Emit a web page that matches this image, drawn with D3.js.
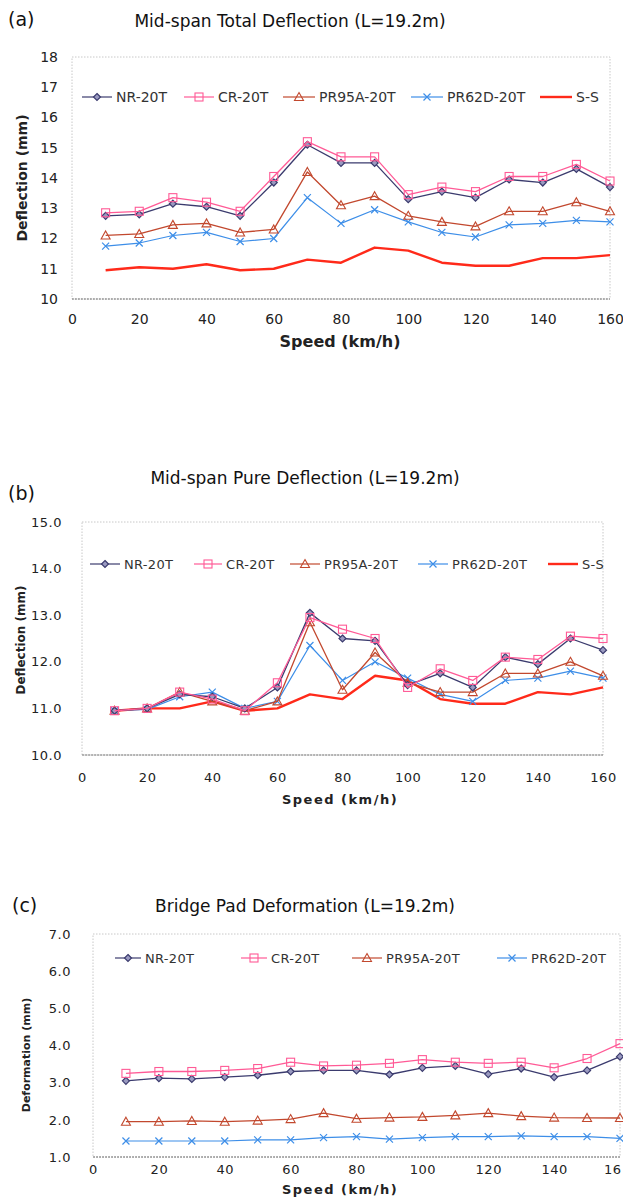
<!DOCTYPE html>
<html><head><meta charset="utf-8">
<script src="https://cdn.jsdelivr.net/npm/d3@7"></script>
<style>
body{margin:0;background:#fff;}
text{font-family:"DejaVu Sans","Liberation Sans",sans-serif;}
</style></head>
<body><svg id="c" width="623" height="1198"></svg>
<script>
const speeds = [10,20,30,40,50,60,70,80,90,100,110,120,130,140,150,160];
const seriesNames = ["NR-20T","CR-20T","PR95A-20T","PR62D-20T","S-S"];

// (a) total deflection
const aNR   = [12.75,12.8,13.15,13.05,12.75,13.85,15.1,14.5,14.5,13.3,13.55,13.35,13.95,13.85,14.3,13.7];
const aCR   = [12.85,12.9,13.35,13.2,12.9,14.05,15.2,14.7,14.7,13.45,13.7,13.55,14.05,14.05,14.45,13.9];
const aPR95 = [12.1,12.15,12.45,12.5,12.2,12.3,14.2,13.1,13.4,12.75,12.55,12.4,12.9,12.9,13.2,12.9];
const aPR62 = [11.75,11.85,12.1,12.2,11.9,12.0,13.35,12.5,12.95,12.55,12.2,12.05,12.45,12.5,12.6,12.55];
const aSS   = [10.95,11.05,11.0,11.15,10.95,11.0,11.3,11.2,11.7,11.6,11.2,11.1,11.1,11.35,11.35,11.45];

// (b) pure deflection
const bNR   = [10.95,11.0,11.3,11.25,11.0,11.45,13.05,12.5,12.45,11.5,11.75,11.45,12.1,11.95,12.5,12.25];
const bCR   = [10.95,11.0,11.35,11.2,10.95,11.55,12.95,12.7,12.5,11.45,11.85,11.6,12.1,12.05,12.55,12.5];
const bPR95 = [10.95,11.0,11.35,11.15,10.95,11.15,12.85,11.4,12.2,11.55,11.35,11.35,11.75,11.75,12.0,11.7];
const bPR62 = [10.95,10.98,11.25,11.35,11.0,11.15,12.35,11.6,12.0,11.65,11.3,11.15,11.6,11.65,11.8,11.65];
const bSS   = [10.95,11.0,11.0,11.15,10.95,11.0,11.3,11.2,11.7,11.6,11.2,11.1,11.1,11.35,11.3,11.45];

// (c) pad deformation
const cNR   = [3.05,3.12,3.1,3.15,3.2,3.3,3.33,3.33,3.22,3.4,3.45,3.23,3.38,3.15,3.33,3.7];
const cCR   = [3.25,3.3,3.3,3.33,3.38,3.55,3.45,3.47,3.52,3.62,3.55,3.52,3.55,3.4,3.65,4.05];
const cPR95 = [1.95,1.95,1.97,1.95,1.98,2.02,2.18,2.03,2.06,2.08,2.12,2.18,2.1,2.06,2.05,2.05];
const cPR62 = [1.43,1.43,1.43,1.43,1.46,1.46,1.52,1.55,1.48,1.52,1.55,1.55,1.57,1.55,1.55,1.5];

const xTicks = [0,20,40,60,80,100,120,140,160];
const aYTicks = [10,11,12,13,14,15,16,17,18];
const bYTicks = [10,11,12,13,14,15];
const cYTicks = [1,2,3,4,5,6,7];

const styles = {
  "NR-20T":   {color:"#3b3b6e", sym:"diamond", w:1.3},
  "CR-20T":   {color:"#ff5a96", sym:"square", w:1.3},
  "PR95A-20T":{color:"#c2482e", sym:"triangle", w:1.3},
  "PR62D-20T":{color:"#3d8ee8", sym:"cross", w:1.2},
  "S-S":      {color:"#ff2a1a", sym:null, w:2.4}
};

const svg = d3.select("#c");

function marker(g, sym, x, y, color){
  if(sym==="diamond"){
    g.append("path").attr("d",`M${x},${y-3.5}L${x+3.5},${y}L${x},${y+3.5}L${x-3.5},${y}Z`)
     .attr("fill","#9a9ac0").attr("stroke",color).attr("stroke-width",1.2);
  } else if(sym==="square"){
    g.append("rect").attr("x",x-4).attr("y",y-4).attr("width",8).attr("height",8)
     .attr("fill","none").attr("stroke",color).attr("stroke-width",1.1);
  } else if(sym==="triangle"){
    g.append("path").attr("d",`M${x},${y-4.5}L${x+4.5},${y+3.5}L${x-4.5},${y+3.5}Z`)
     .attr("fill","none").attr("stroke",color).attr("stroke-width",1.1);
  } else if(sym==="cross"){
    g.append("path").attr("d",`M${x-3.5},${y-3.5}L${x+3.5},${y+3.5}M${x+3.5},${y-3.5}L${x-3.5},${y+3.5}`)
     .attr("stroke",color).attr("stroke-width",1.2);
  }
}

function panel(cfg){
  const g = svg.append("g");
  const x = d3.scaleLinear().domain([0,160]).range([cfg.left,cfg.right]);
  const y = d3.scaleLinear().domain(cfg.yDomain).range([cfg.bottom,cfg.top]);
  g.append("rect").attr("x",cfg.left).attr("y",cfg.top).attr("width",cfg.right-cfg.left).attr("height",cfg.bottom-cfg.top)
   .attr("fill","none").attr("stroke","#c8c8c8").attr("stroke-width",1).attr("stroke-dasharray","1.5,1.5");
  g.append("line").attr("x1",cfg.left).attr("x2",cfg.right).attr("y1",cfg.bottom).attr("y2",cfg.bottom)
   .attr("stroke","#777").attr("stroke-width",1.2).attr("stroke-dasharray","2,1");
  const ya = d3.axisLeft(y).tickValues(cfg.yTicks).tickFormat(cfg.yFmt).tickSize(0).tickPadding(cfg.yPad);
  const yg = g.append("g").attr("transform",`translate(${cfg.left},0)`).call(ya);
  yg.select(".domain").remove();
  yg.selectAll("text").attr("font-size",cfg.tickSize).attr("fill","#222").attr("letter-spacing",cfg.ls||0);
  const xa = d3.axisBottom(x).tickValues(xTicks).tickSize(0).tickPadding(cfg.xPad);
  const xg = g.append("g").attr("transform",`translate(0,${cfg.bottom})`).call(xa);
  xg.select(".domain").remove();
  xg.selectAll("text").attr("font-size",cfg.tickSize).attr("fill","#222").attr("letter-spacing",cfg.ls||0)
    .text(d=> (cfg.clip160 && d===160) ? "16" : d);
  if(cfg.clip160) xg.selectAll("text").filter(d=>d===160).attr("text-anchor","end").attr("dx",1);
  g.append("text").attr("x",cfg.titleX).attr("y",cfg.titleY).attr("text-anchor","middle")
   .attr("font-size",17).attr("fill","#111").text(cfg.title);
  g.append("text").attr("x",cfg.tagX).attr("y",cfg.tagY).attr("font-size",19).attr("fill","#111").text(cfg.tag);
  g.append("text").attr("x",cfg.xLabelX).attr("y",cfg.xLabelY).attr("text-anchor","middle")
   .attr("font-size",cfg.xLabelSize).attr("font-weight",cfg.xLabelW||"bold").attr("fill","#222")
   .attr("letter-spacing",cfg.xLabelLs||0).text("Speed (km/h)");
  g.append("text").attr("transform",`translate(${cfg.yLabelX},${cfg.yLabelY}) rotate(-90)`).attr("text-anchor","middle")
   .attr("font-size",cfg.yLabelSize).attr("font-weight","bold").attr("fill","#222").text(cfg.yLabel);
  const line = d3.line().x((d,i)=>x(speeds[i])).y(d=>y(d));
  cfg.series.forEach(s=>{
    const st = styles[s.name];
    g.append("path").datum(s.values).attr("d",line).attr("fill","none")
     .attr("stroke",st.color).attr("stroke-width",st.w).attr("stroke-linejoin","round");
    if(st.sym) s.values.forEach((v,i)=>marker(g,st.sym,x(speeds[i]),y(v),st.color));
  });
  cfg.legend.forEach((L,i)=>{
    const st = styles[L.name];
    g.append("line").attr("x1",L.x).attr("x2",L.x+L.len).attr("y1",cfg.legY).attr("y2",cfg.legY)
     .attr("stroke",st.color).attr("stroke-width",st.sym?1.2:2.4);
    if(st.sym) marker(g,st.sym,L.x+L.len/2,cfg.legY,st.color);
    g.append("text").attr("x",L.x+L.len+4).attr("y",cfg.legY+5).attr("font-size",cfg.legSize)
     .attr("fill","#333").attr("letter-spacing",cfg.legLs||0).text(L.name);
  });
}

panel({
  left:72,right:610,top:57,bottom:299,yDomain:[10,18],yTicks:aYTicks,yFmt:d3.format("d"),yPad:14,xPad:15,
  tickSize:14,title:"Mid-span Total Deflection (L=19.2m)",titleX:290,titleY:27,tag:"(a)",tagX:8,tagY:26,
  xLabelX:340,xLabelY:347,xLabelSize:16,xLabelW:"600",yLabelX:27,yLabelY:178,yLabelSize:14,yLabel:"Deflection (mm)",
  legY:97,legSize:14,
  legend:[{name:"NR-20T",x:82,len:30},{name:"CR-20T",x:184,len:30},{name:"PR95A-20T",x:283,len:32},
          {name:"PR62D-20T",x:411,len:32},{name:"S-S",x:540,len:32}],
  series:[{name:"S-S",values:aSS},{name:"PR62D-20T",values:aPR62},{name:"PR95A-20T",values:aPR95},
          {name:"NR-20T",values:aNR},{name:"CR-20T",values:aCR}]
});

panel({
  left:82,right:603,top:522,bottom:755,yDomain:[10,15],yTicks:bYTicks,yFmt:d3.format(".1f"),yPad:20,xPad:18,
  tickSize:13,ls:0.5,title:"Mid-span Pure Deflection (L=19.2m)",titleX:305,titleY:484,tag:"(b)",tagX:8,tagY:500,
  xLabelX:340,xLabelY:804,xLabelSize:13,xLabelLs:1.5,yLabelX:25,yLabelY:640,yLabelSize:12,yLabel:"Deflection (mm)",
  legY:564,legSize:13,legLs:0.3,
  legend:[{name:"NR-20T",x:90,len:30},{name:"CR-20T",x:194,len:28},{name:"PR95A-20T",x:290,len:30},
          {name:"PR62D-20T",x:418,len:30},{name:"S-S",x:548,len:30}],
  series:[{name:"S-S",values:bSS},{name:"PR62D-20T",values:bPR62},{name:"PR95A-20T",values:bPR95},
          {name:"NR-20T",values:bNR},{name:"CR-20T",values:bCR}]
});

panel({
  left:93,right:620,top:934,bottom:1157,yDomain:[1,7],yTicks:cYTicks,yFmt:d3.format(".1f"),yPad:22,xPad:8,
  tickSize:13,ls:0.5,clip160:true,title:"Bridge Pad Deformation (L=19.2m)",titleX:305,titleY:912,tag:"(c)",tagX:12,tagY:912,
  xLabelX:340,xLabelY:1194,xLabelSize:13,xLabelLs:1.5,yLabelX:30,yLabelY:1055,yLabelSize:11,yLabel:"Deformation (mm)",
  legY:958,legSize:13,legLs:0.3,
  legend:[{name:"NR-20T",x:115,len:26},{name:"CR-20T",x:241,len:26},{name:"PR95A-20T",x:352,len:30},
          {name:"PR62D-20T",x:497,len:30}],
  series:[{name:"PR62D-20T",values:cPR62},{name:"PR95A-20T",values:cPR95},
          {name:"NR-20T",values:cNR},{name:"CR-20T",values:cCR}]
});
</script></body></html>
